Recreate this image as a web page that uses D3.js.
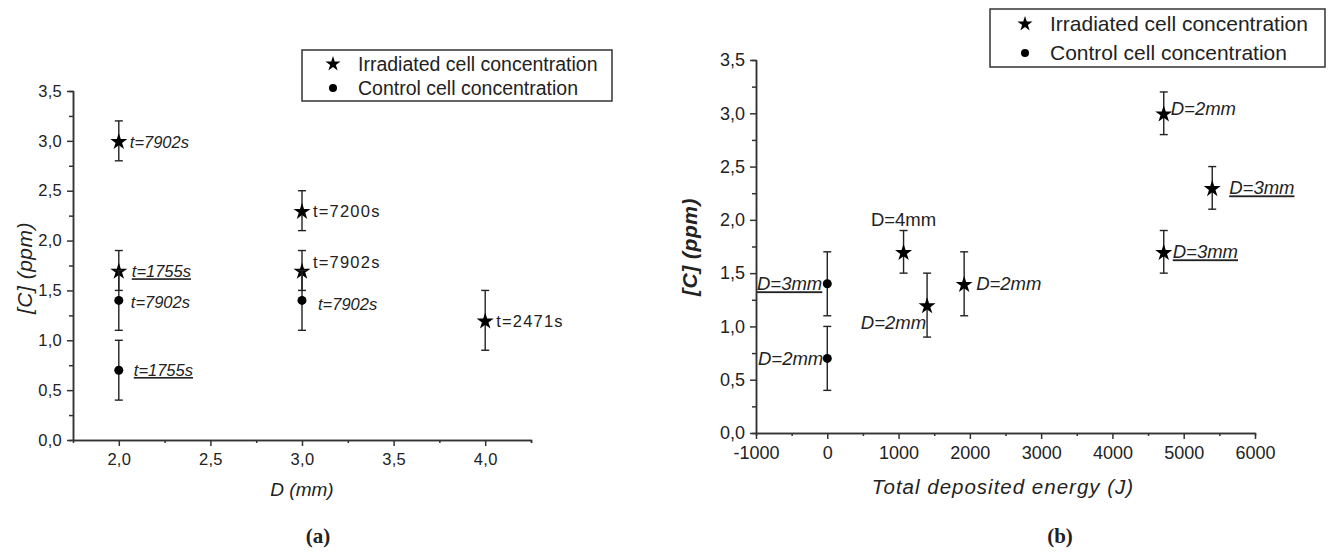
<!DOCTYPE html>
<html>
<head>
<meta charset="utf-8">
<script src="https://cdn.jsdelivr.net/npm/d3@7"></script>
<style>
  body { margin: 0; background: #fff; }
  text { font-family: Arial, "Liberation Sans", sans-serif; fill: #222; }
</style>
</head>
<body>
<div class="box"></div>
<script>
// Panel (a): concentration vs distance D
const aIrrD = [2.0, 2.0, 3.0, 3.0, 4.0];
const aIrrC = [3.0, 1.7, 2.3, 1.7, 1.2];
const aIrrErr = [0.2, 0.2, 0.2, 0.2, 0.3];
const aIrrLabels = ['t=7902s', 't=1755s', 't=7200s', 't=7902s', 't=2471s'];

const aCtrlD = [2.0, 2.0, 3.0];
const aCtrlC = [1.4, 0.7, 1.4];
const aCtrlErr = [0.3, 0.3, 0.3];
const aCtrlLabels = ['t=7902s', 't=1755s', 't=7902s'];

// Panel (b): concentration vs total deposited energy
const bIrrE = [1070, 1400, 1920, 4720, 5400, 4720];
const bIrrC = [1.7, 1.2, 1.4, 3.0, 2.3, 1.7];
const bIrrErr = [0.2, 0.3, 0.3, 0.2, 0.2, 0.2];
const bIrrLabels = ['D=4mm', 'D=2mm', 'D=2mm', 'D=2mm', 'D=3mm', 'D=3mm'];

const bCtrlE = [0, 0];
const bCtrlC = [1.4, 0.7];
const bCtrlErr = [0.3, 0.3];
const bCtrlLabels = ['D=3mm', 'D=2mm'];

const yTicks = [0, 0.5, 1.0, 1.5, 2.0, 2.5, 3.0, 3.5];
const aXTicks = [2.0, 2.5, 3.0, 3.5, 4.0];
const bXTicks = [-1000, 0, 1000, 2000, 3000, 4000, 5000, 6000];
const legendNames = ['Irradiated cell concentration', 'Control cell concentration'];

// label placement / style: [dx, dy, anchor, italic, underline]
const aIrrStyle = [[11, 1, 'start', 1, 0], [13, 1, 'start', 1, 1], [11, 1, 'start', 0, 0], [11, -8, 'start', 0, 0], [11, 1, 'start', 0, 0]];
const aCtrlStyle = [[12, 2, 'start', 1, 0], [15, 0, 'start', 1, 1], [16, 4, 'start', 1, 0]];
const bIrrStyle = [[0, -32, 'middle', 0, 0], [-1, 17, 'end', 1, 0], [12, 0, 'start', 1, 0], [7, -5, 'start', 1, 0], [17, 0, 'start', 1, 1], [9, 0, 'start', 1, 1]];
const bCtrlStyle = [[-5, 0, 'end', 1, 1], [-4, 0, 'end', 1, 0]];

const fmt = d => d3.format('.1f')(d).replace('.', ',');

const svg = d3.select('.box')
              .append('svg')
              .attr('width', 1330)
              .attr('height', 554);

const star = d3.symbol().type(d3.symbolStar).size(90);

function panel(p) {
    const x = d3.scaleLinear().domain(p.xDomain).range(p.xRange);
    const y = d3.scaleLinear().domain([0, 3.5]).range(p.yRange);
    const g = svg.append('g');

    // minor ticks
    g.append('g')
     .attr('transform', `translate(0, ${p.yRange[0]})`)
     .call(d3.axisBottom(x).tickValues(p.xMinor).tickSize(3).tickFormat(''));
    g.append('g')
     .attr('transform', `translate(${p.xRange[0]}, 0)`)
     .call(d3.axisLeft(y).tickValues(d3.range(0.25, 3.5, 0.5)).tickSize(4).tickFormat(''));

    // major ticks
    const gx = g.append('g')
                .attr('transform', `translate(0, ${p.yRange[0]})`)
                .call(d3.axisBottom(x).tickValues(p.xTicks).tickSize(6).tickSizeOuter(0).tickFormat(p.xFmt));
    const gy = g.append('g')
                .attr('transform', `translate(${p.xRange[0]}, 0)`)
                .call(d3.axisLeft(y).tickValues(yTicks).tickSize(6).tickSizeOuter(0).tickFormat(fmt));

    g.selectAll('.domain, .tick line').attr('stroke', '#333').attr('stroke-width', 1.5);
    gx.selectAll('text').attr('font-size', p.tickFont).attr('dy', '0.95em')
      .style('letter-spacing', p.tickSpace + 'px').style('fill', '#222');
    gy.selectAll('text').attr('font-size', p.tickFont).attr('dx', '-2')
      .style('letter-spacing', p.tickSpace + 'px').style('fill', '#222');

    // axis titles
    g.append('text')
     .attr('x', p.xTitlePos[0]).attr('y', p.xTitlePos[1])
     .attr('text-anchor', 'middle').attr('font-size', p.xTitleFont)
     .style('font-style', 'italic').style('letter-spacing', p.xTitleSpace + 'px')
     .text(p.xTitle);
    g.append('text')
     .attr('transform', `translate(${p.yTitlePos[0]}, ${p.yTitlePos[1]}) rotate(-90)`)
     .attr('text-anchor', 'middle').attr('font-size', 21)
     .attr('font-weight', p.yBold ? 'bold' : 'normal')
     .style('font-style', 'italic').style('letter-spacing', '0.5px')
     .text('[C] (ppm)');
    g.append('text')
     .attr('x', p.capPos[0]).attr('y', p.capPos[1])
     .attr('text-anchor', 'middle').attr('font-size', 21)
     .attr('font-weight', 'bold')
     .style('font-family', '"Liberation Serif", "Times New Roman", serif')
     .text(p.caption);

    // series
    p.series.forEach(s => {
        const pts = s.xs.map((v, i) => ({x: v, c: s.cs[i], e: s.errs[i], lab: s.labels[i], st: s.styles[i]}));
        const eb = g.append('g').selectAll('g').data(pts).enter().append('g')
                    .attr('stroke', '#222').attr('stroke-width', 1.4);
        eb.append('line')
          .attr('x1', d => x(d.x)).attr('x2', d => x(d.x))
          .attr('y1', d => y(d.c + d.e)).attr('y2', d => y(d.c - d.e));
        eb.append('line')
          .attr('x1', d => x(d.x) - 4).attr('x2', d => x(d.x) + 4)
          .attr('y1', d => y(d.c + d.e)).attr('y2', d => y(d.c + d.e));
        eb.append('line')
          .attr('x1', d => x(d.x) - 4).attr('x2', d => x(d.x) + 4)
          .attr('y1', d => y(d.c - d.e)).attr('y2', d => y(d.c - d.e));

        if (s.kind === 'star') {
            g.append('g').selectAll('path').data(pts).enter().append('path')
             .attr('d', star)
             .attr('fill', '#000')
             .attr('transform', d => `translate(${x(d.x)}, ${y(d.c) + 1})`);
        } else {
            g.append('g').selectAll('circle').data(pts).enter().append('circle')
             .attr('cx', d => x(d.x)).attr('cy', d => y(d.c)).attr('r', 4.5)
             .attr('fill', '#000');
        }

        g.append('g').selectAll('text').data(pts).enter().append('text')
         .attr('x', d => x(d.x) + d.st[0])
         .attr('y', d => y(d.c) + d.st[1])
         .attr('dy', '0.35em')
         .attr('text-anchor', d => d.st[2])
         .attr('font-size', p.labFont)
         .style('font-style', d => d.st[3] ? 'italic' : 'normal')
         .style('letter-spacing', d => (d.st[3] ? p.labSpaceIt : p.labSpace) + 'px')
         .style('text-decoration', d => d.st[4] ? 'underline' : 'none')
         .text(d => d.lab);
    });

    // legend
    const L = p.legend;
    g.append('rect')
     .attr('x', L.x).attr('y', L.y).attr('width', L.w).attr('height', L.h)
     .attr('fill', '#fff').attr('stroke', '#333').attr('stroke-width', 1.5);
    legendNames.forEach((n, i) => {
        const cy = L.y + L.row0 + i * L.step;
        if (i === 0) {
            g.append('path').attr('d', d3.symbol().type(d3.symbolStar).size(70))
             .attr('transform', `translate(${L.x + L.mx}, ${cy})`).attr('fill', '#000');
        } else {
            g.append('circle').attr('cx', L.x + L.mx).attr('cy', cy).attr('r', 4).attr('fill', '#000');
        }
        g.append('text')
         .attr('x', L.x + L.tx).attr('y', cy).attr('dy', '0.35em')
         .attr('font-size', L.font)
         .text(n);
    });
}

panel({
    xDomain: [1.75, 4.25], xRange: [73, 531], yRange: [440, 91],
    xTicks: aXTicks, xMinor: [2.25, 2.75, 3.25, 3.75, 4.25], xFmt: fmt,
    tickFont: 16.5, tickSpace: 0.3, labFont: 16.5, labSpace: 1.2, labSpaceIt: 0,
    xTitle: 'D (mm)', xTitlePos: [302, 496], xTitleFont: 19, xTitleSpace: 0,
    yTitlePos: [32, 268], yBold: false,
    caption: '(a)', capPos: [318, 543],
    legend: {x: 302, y: 50, w: 310, h: 51, row0: 14, step: 24, mx: 31, tx: 56, font: 19.5},
    series: [
        {kind: 'star', xs: aIrrD, cs: aIrrC, errs: aIrrErr, labels: aIrrLabels, styles: aIrrStyle},
        {kind: 'dot', xs: aCtrlD, cs: aCtrlC, errs: aCtrlErr, labels: aCtrlLabels, styles: aCtrlStyle}
    ]
});

panel({
    xDomain: [-1000, 6000], xRange: [756, 1255], yRange: [433, 60],
    xTicks: bXTicks, xMinor: d3.range(-500, 6000, 1000), xFmt: d => String(d),
    tickFont: 18, tickSpace: 0, labFont: 18.5, labSpace: 0, labSpaceIt: 0,
    xTitle: 'Total deposited energy (J)', xTitlePos: [1003, 494], xTitleFont: 20.5, xTitleSpace: 1,
    yTitlePos: [697, 247], yBold: true,
    caption: '(b)', capPos: [1060, 543],
    legend: {x: 990, y: 9, w: 335, h: 58, row0: 15, step: 29, mx: 35, tx: 60, font: 21},
    series: [
        {kind: 'star', xs: bIrrE, cs: bIrrC, errs: bIrrErr, labels: bIrrLabels, styles: bIrrStyle},
        {kind: 'dot', xs: bCtrlE, cs: bCtrlC, errs: bCtrlErr, labels: bCtrlLabels, styles: bCtrlStyle}
    ]
});
</script>
</body>
</html>
